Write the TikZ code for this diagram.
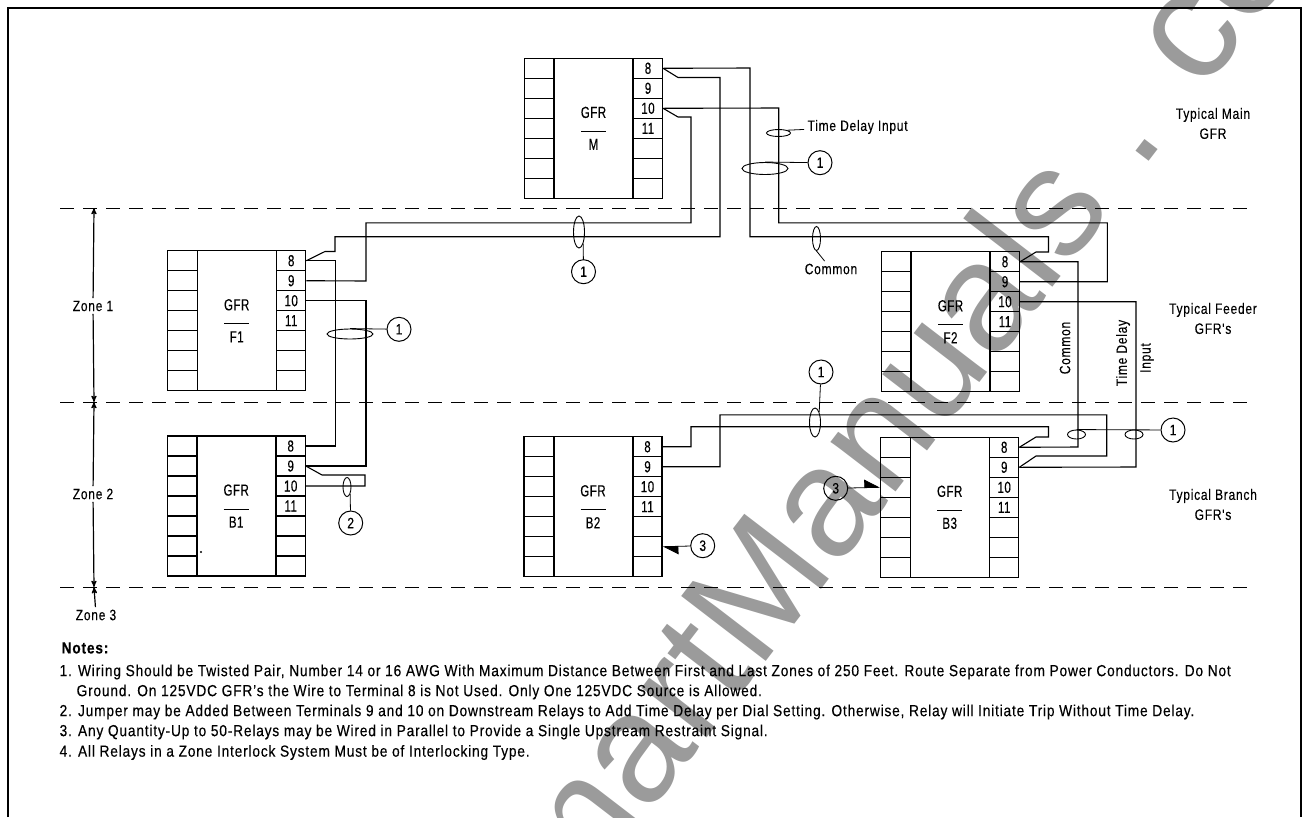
\documentclass[tikz,border=0pt]{standalone}
\usepackage{fontspec}
\setmainfont[FakeStretch=0.86,LetterSpace=5,FakeBold=0.25]{Liberation Sans}
\newfontfamily\labelfont[FakeStretch=0.8,LetterSpace=5,FakeBold=0.25]{Liberation Sans}
\newfontfamily\narrowfont[FakeStretch=0.72,LetterSpace=3,FakeBold=0.25]{Liberation Sans}
\newfontfamily\markfont{Liberation Sans}
\usetikzlibrary{arrows,arrows.meta,shapes.geometric}
\definecolor{mark_gray}{RGB}{155,155,155}
% one relay: name, left edge, top edge, lower line of the label
\newcommand\relay[4]{
    \node[body] (#1) at (#2+69,#3+70) {GFR\\[-3pt]\rule{25pt}{1pt}\\[1pt]#4};
    \foreach \i in {0,...,6} {
        \node[cell,minimum width=30pt] (#1-l\i) at (#2+15,#3+10+20*\i) {};
    }
    \foreach \i/\t in {0/8,1/9,2/10,3/11} {
        \node[cell] (#1-\t) at (#2+123.5,#3+10+20*\i) {\t};
    }
    \foreach \i/\t in {4/12,5/13,6/14} {
        \node[cell] (#1-\t) at (#2+123.5,#3+10+20*\i) {};
    }
}
\begin{document}
\begin{tikzpicture}[x=1pt,y=-1pt,>=stealth',line width=1.2pt,every node/.style={font=\labelfont\fontsize{15}{17}\selectfont}]
    \tikzstyle{cell}=[draw, rectangle, minimum width=29pt, minimum height=20pt, inner sep=0pt, font=\narrowfont\fontsize{16}{16}\selectfont]
    \tikzstyle{body}=[draw, rectangle, minimum width=79pt, minimum height=140pt, inner sep=0pt, align=center, font=\narrowfont\fontsize{16}{17}\selectfont]
    \tikzstyle{wire}=[draw, line width=1.1pt]
    \tikzstyle{zone}=[line width=0.9pt, dash pattern=on 14pt off 9pt]
    \tikzstyle{ring}=[draw, ellipse, inner sep=0pt, line width=0.9pt]
    \tikzstyle{num}=[draw, circle, minimum size=24pt, inner sep=0pt, line width=1pt]
    \tikzstyle{lead}=[line width=0.8pt]
    \tikzstyle{half}=[-{Stealth[harpoon,length=15pt,width=16pt,inset=0pt]},line width=0.8pt]
    \tikzstyle{note}=[anchor=west, inner sep=0pt, font=\normalfont\fontsize{16}{17}\selectfont]

    \path[use as bounding box,clip] (0,0) rectangle (1305,817);
    \node[anchor=base west,rotate=52.5,inner sep=0pt,text=mark_gray,font=\markfont\fontsize{155}{160}\selectfont] (mark) at (569,918) {martManuals . co};

    \draw[line width=2pt] (7.5,817) -- (7.5,7.5) -- (1301,7.5) -- (1301,817);

    \relay{m}{524.5}{58.3}{M}
    \relay{f1}{167.7}{250.7}{F1}
    \relay{f2}{881.5}{251.7}{F2}
    \relay{b1}{167.2}{436}{B1}
    \relay{b2}{524}{436.7}{B2}
    \relay{b3}{880.7}{437.3}{B3}
    \fill (201,552) circle (1.2);

    % zones
    \draw[zone] (60,208) -- (1253,208);
    \draw[zone] (60,402) -- (1253,402);
    \draw[zone] (60,587) -- (1253,587);
    \coordinate (z1) at (94,208);
    \coordinate (z2) at (94,402);
    \coordinate (z3) at (94,587);
    \node[fill=white,inner sep=2pt] (zone1) at (93,306) {Zone 1};
    \node[fill=white,inner sep=2pt] (zone2) at (93,494) {Zone 2};
    \node[inner sep=2pt] (zone3) at (96,615) {Zone 3};
    \path
     (zone1) edge[->] (z1)
     (zone1) edge[->] (z2)
     (zone2) edge[->] (z2)
     (zone2) edge[->] (z3)
     (zone3) edge[->] (z3)
     ;

    % wiring between relays
    \draw[wire] (m-8.east) -- (750,68) -- (750,236.7) -- (1048.5,236.7) -- (1048.5,252) -- (1036,252) -- (f2-8.east);
    \draw[wire] (m-10.east) -- (778.7,108) -- (778.7,222.8) -- (1107.3,222.8) -- (1107.3,281.7) -- (f2-9.east);
    \draw[wire] (m-8.east) -- (678,77.5) -- (720,77.5) -- (720,236.7) -- (335,236.7) -- (335,251.5) -- (325,251.5) -- (f1-8.east);
    \draw[wire] (m-10.east) -- (678,117) -- (691,117) -- (691,222.8) -- (366,222.8) -- (366,281) -- (f1-9.east);
    \draw[wire] (f1-8.east) -- (335.5,260.7) -- (335.5,446) -- (b1-8.east);
    \draw[wire] (f1-10.east) -- (366,300.7) -- (366,466) -- (b1-9.east);
    \draw[wire] (b1-9.east) -- (322,475) -- (365,475) -- (365,486) -- (b1-10.east);
    \draw[wire] (f2-8.east) -- (1078,261.7) -- (1078,447) -- (b3-8.east);
    \draw[wire] (f2-10.east) -- (1136,301.7) -- (1136,467) -- (b3-9.east);
    \draw[wire] (b2-8.east) -- (691,446.7) -- (691,426.7) -- (1048.5,426.7) -- (1048.5,437) -- (1036,437) -- (b3-8.east);
    \draw[wire] (b2-9.east) -- (720,466.7) -- (720,414.8) -- (1106.7,414.8) -- (1106.7,456) -- (1036,456) -- (b3-9.east);

    % twisted pair rings
    \node[ring,minimum width=24pt,minimum height=7pt] (rtd) at (778.5,133) {};
    \node[ring,minimum width=46pt,minimum height=12pt] (rm) at (765,168.5) {};
    \node[ring,minimum width=11pt,minimum height=32pt] (rf) at (579,232) {};
    \node[ring,minimum width=8pt,minimum height=24pt] (rc) at (816.5,238.5) {};
    \node[ring,minimum width=46pt,minimum height=10pt] (rf1) at (350,334) {};
    \node[ring,minimum width=8pt,minimum height=19pt] (rb1) at (347,487) {};
    \node[ring,minimum width=11pt,minimum height=29pt] (rb) at (815,422.5) {};
    \node[ring,minimum width=18pt,minimum height=9pt] (rb3a) at (1076.5,434.5) {};
    \node[ring,minimum width=18pt,minimum height=9pt] (rb3b) at (1134,434.5) {};

    \node[num] (c1) at (820,162.7) {1};
    \node[num] (c2) at (583.5,271.7) {1};
    \node[num] (c3) at (399,329.3) {1};
    \node[num] (c4) at (350.7,523) {2};
    \node[num] (c5) at (821,372) {1};
    \node[num] (c6) at (1173,430) {1};
    \node[num] (c7) at (702.7,545.7) {3};
    \node[num] (c8) at (835.7,488.3) {3};

    \node[anchor=west,inner sep=3pt] (ltd) at (804,127) {Time Delay Input};
    \node[inner sep=2pt] (lcom) at (831,269) {Common};
    \node[rotate=90,inner sep=0pt] (lcom2) at (1065,348) {Common};
    \node[rotate=90,inner sep=0pt] (ltime) at (1123,353) {Time Delay};
    \node[rotate=90,inner sep=0pt] (linput) at (1147,358) {Input};

    \path[lead]
     (ltd) edge (rtd.north east)
     (c1) edge (rm.north)
     (c2) edge (rf.south east)
     (rc.south) edge (lcom)
     (c3) edge (rf1.north)
     (c4) edge (rb1.south east)
     (c5) edge (rb.north east)
     (c6) edge (rb3a.north)
     ;
    \draw[half] (c7) -- (b2-13.east);
    \draw[half] (c8) -- (b3-l2.west);

    % side labels
    \node[align=center,inner sep=0pt] (tmain) at (1213,123.5) {Typical Main\\[3pt]GFR};
    \node[align=center,inner sep=0pt] (tfeed) at (1213,318.5) {Typical Feeder\\[3pt]GFR's};
    \node[align=center,inner sep=0pt] (tbran) at (1213,504.5) {Typical Branch\\[3pt]GFR's};

    % notes
    \node[note] (n0) at (61,648) {\bfseries Notes:};
    \node[note] (n1) at (59,672) {1. Wiring Should be Twisted Pair, Number 14 or 16 AWG With Maximum Distance Between First and Last Zones of 250 Feet. Route Separate from Power Conductors. Do Not};
    \node[note] (n1b) at (76,692) {Ground. On 125VDC GFR's the Wire to Terminal 8 is Not Used. Only One 125VDC Source is Allowed.};
    \node[note] (n2) at (59,712) {2. Jumper may be Added Between Terminals 9 and 10 on Downstream Relays to Add Time Delay per Dial Setting. Otherwise, Relay will Initiate Trip Without Time Delay.};
    \node[note] (n3) at (59,732) {3. Any Quantity-Up to 50-Relays may be Wired in Parallel to Provide a Single Upstream Restraint Signal.};
    \node[note] (n4) at (59,752.5) {4. All Relays in a Zone Interlock System Must be of Interlocking Type.};
\end{tikzpicture}
\end{document}
